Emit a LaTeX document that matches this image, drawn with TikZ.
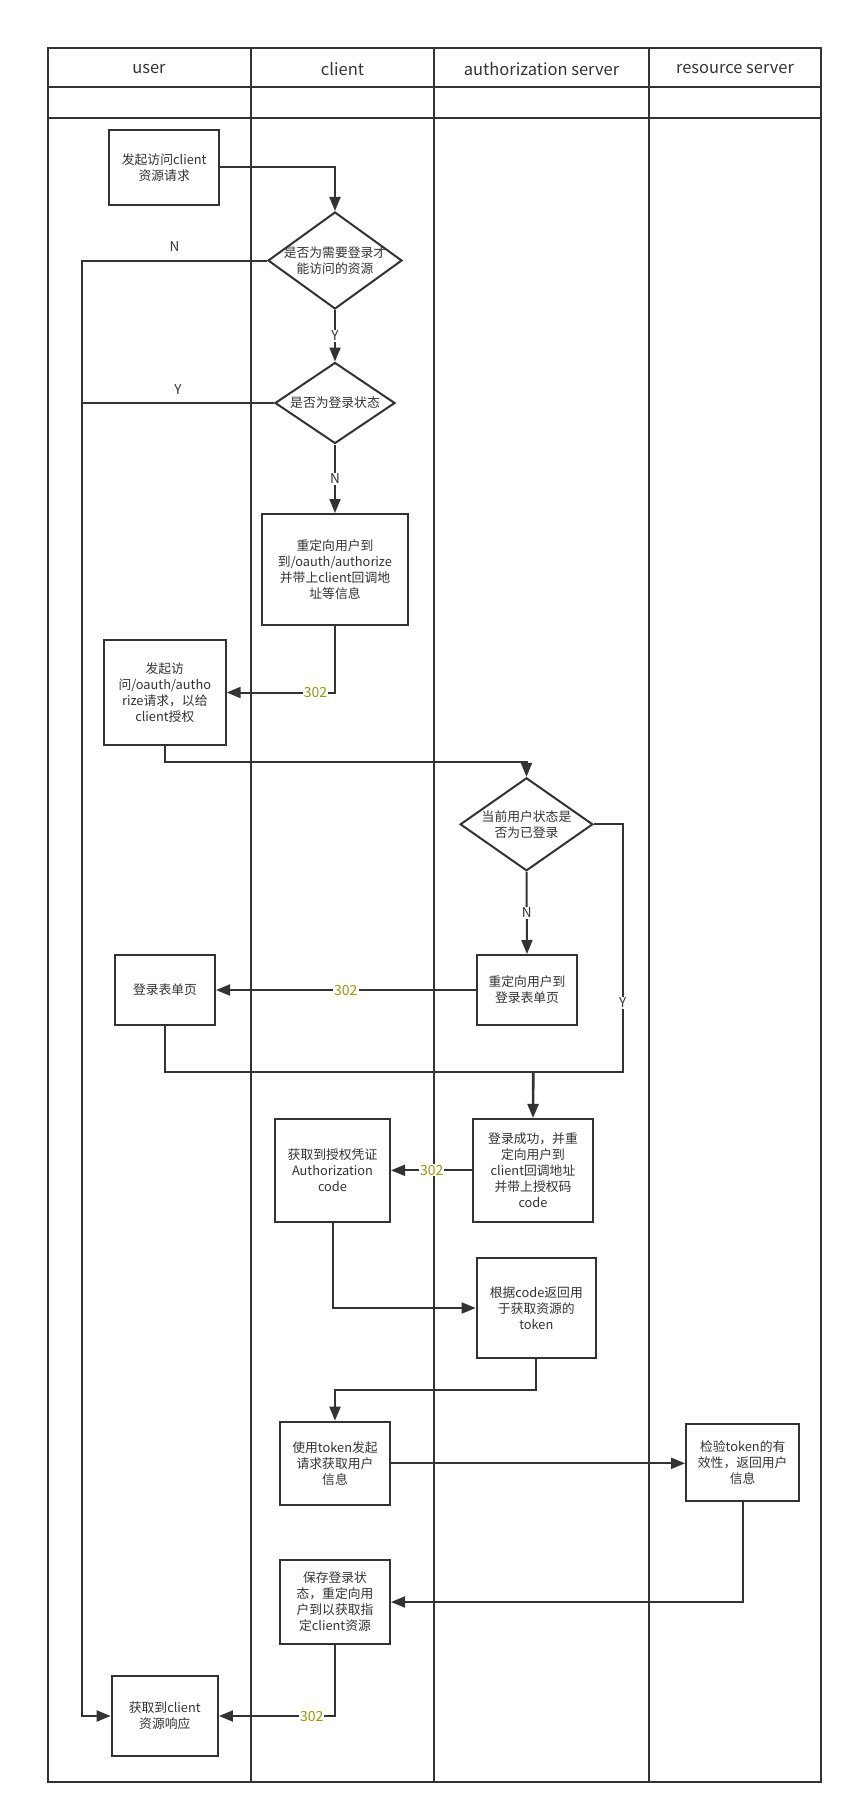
\documentclass[tikz,border=0pt]{standalone}
\usepackage{fontspec}
\setmainfont{Noto Sans CJK SC}
\usetikzlibrary{arrows.meta,shapes.geometric}
\definecolor{ln}{HTML}{333333}
\definecolor{olivec}{HTML}{999900}
\begin{document}
\begin{tikzpicture}[x=1pt,y=-1pt,
  every node/.style={text=ln},
  lane/.style={draw=ln,line width=2pt},
  hdr/.style={font=\fontsize{16.5}{19}\selectfont},
  box/.style={draw=ln,fill=white,line width=2pt,rectangle,align=center,inner sep=0pt,font=\fontsize{12.8}{16}\selectfont},
  dec/.style={draw=ln,fill=white,line width=2pt,diamond,inner sep=0pt},
  dtext/.style={align=center,font=\fontsize{12.8}{16}\selectfont},
  conn/.style={draw=ln,line width=2pt},
  arr/.style={conn,-{Triangle[length=14pt,width=11pt]}},
  yn/.style={font=\fontsize{13.5}{15}\selectfont,fill=white,inner sep=1pt},
  ynab/.style={font=\fontsize{13.5}{15}\selectfont,inner sep=1pt,above=7pt},
  codelbl/.style={font=\fontsize{14}{16}\selectfont,text=olivec,fill=white,inner sep=1pt},
]
\useasboundingbox (0,0) rectangle (853,1814);
% swimlanes
\draw[lane] (47.5,48) rectangle (821,1782);
\draw[lane] (47.5,87) -- (821,87);
\draw[lane] (47.5,118) -- (821,118);
\draw[lane] (251,48) -- (251,1782);
\draw[lane] (434,48) -- (434,1782);
\draw[lane] (649,48) -- (649,1782);
\node[hdr] (hu) at (149,69.5) {user};
\node[hdr] (hc) at (342.5,69.5) {client};
\node[hdr] (ha) at (541.5,69.5) {authorization server};
\node[hdr] (hr) at (735,69.5) {resource server};

% nodes
\node[box,minimum width=109.7pt,minimum height=75pt] (b1) at (164.2,167.5) {发起访问client\\资源请求};
\node[dec,minimum width=134pt,minimum height=97pt,label={[dtext]center:{是否为需要登录才\\能访问的资源}}] (d1) at (335,260.5) {};
\node[dec,minimum width=120pt,minimum height=81pt,label={[dtext]center:{是否为登录状态}}] (d2) at (335,403) {};
\node[box,minimum width=146.7pt,minimum height=111pt] (b7) at (335,569.5) {重定向用户到\\到/oauth/authorize\\并带上client回调地\\址等信息};
\node[box,minimum width=121.7pt,minimum height=105pt] (b9) at (164.8,692.5) {发起访\\问/oauth/autho\\rize请求，以给\\client授权};
\node[dec,minimum width=132.7pt,minimum height=93pt,label={[dtext]center:{当前用户状态是\\否为已登录}}] (d3) at (526.5,824.3) {};
\node[box,minimum width=100.6pt,minimum height=70pt] (redir) at (527,990) {重定向用户到\\登录表单页};
\node[box,minimum width=100pt,minimum height=70.7pt] (form) at (165,990) {登录表单页};
\node[box,minimum width=119.4pt,minimum height=102.7pt] (succ) at (533,1170.3) {登录成功，并重\\定向用户到\\client回调地址\\并带上授权码\\code};
\node[box,minimum width=115pt,minimum height=102.7pt] (auth) at (332.5,1170.3) {获取到授权凭证\\Authorization\\code};
\node[box,minimum width=119.3pt,minimum height=100.6pt] (token) at (536.3,1308) {根据code返回用\\于获取资源的\\token};
\node[box,minimum width=110pt,minimum height=83.3pt] (use) at (335,1463.3) {使用token发起\\请求获取用户\\信息};
\node[box,minimum width=113.3pt,minimum height=76.4pt] (ver) at (742.7,1462.5) {检验token的有\\效性，返回用户\\信息};
\node[box,minimum width=110pt,minimum height=84pt] (save) at (335,1602) {保存登录状\\态，重定向用\\户到以获取指\\定client资源};
\node[box,minimum width=106.3pt,minimum height=80.3pt] (final) at (164.8,1716) {获取到client\\资源响应};

\coordinate (xl) at (82,0);
\coordinate (mg) at (533.3,1072);
\coordinate (yc) at (622.7,1072);

% connectors
\draw[arr] (b1.east) -| (d1.north);
\draw[arr] (d1.west) -- node[ynab]{N} (d1.west -| xl) |- (final.west);
\draw[arr] (d1.south) -- node[yn]{Y} (d2.north);
\draw[conn] (d2.west) -- node[ynab]{Y} (d2.west -| xl);
\draw[arr] (d2.south) -- node[yn]{N} (b7.north);
\draw[arr] (b7.south) |- node[codelbl,pos=0.59]{302} (b9.east);
\draw[arr] (b9.south) -- ++(0,16) -| (d3.north);
\draw[arr] (d3.south) -- node[yn]{N} (redir.north);
\draw[arr] (redir.west) -- node[codelbl]{302} (form.east);
\draw[conn] (form.south) |- (mg);
\draw[conn] (d3.east) -| node[yn,pos=0.86]{Y} (yc) -- (mg);
\draw[arr,line width=2.6pt] (mg) -- (succ.north);
\draw[arr] (succ.west) -- node[codelbl]{302} (auth.east);
\draw[arr] (auth.south) |- (token.west);
\draw[arr] (token.south) -- ++(0,31) -| (use.north);
\draw[arr] (use.east) -- (use.east -| ver.west);
\draw[arr] (ver.south) |- (save.east);
\draw[arr] (save.south) |- node[codelbl,pos=0.6]{302} (final.east);
\end{tikzpicture}
\end{document}
